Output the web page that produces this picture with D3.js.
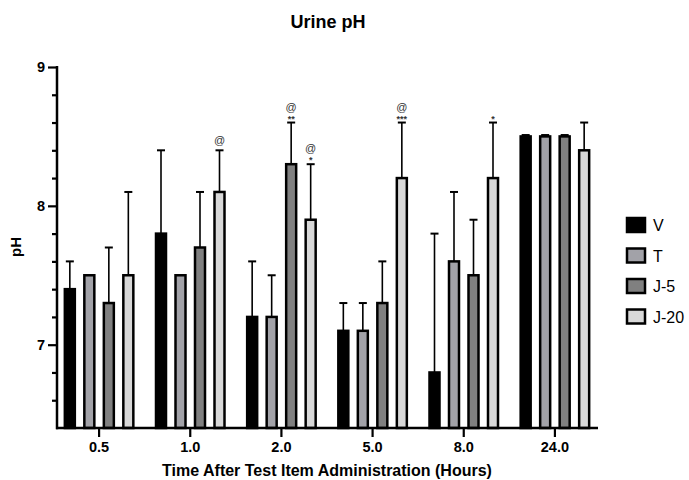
<!DOCTYPE html>
<html lang="en">
<head>
<meta charset="UTF-8">
<script src="https://cdn.jsdelivr.net/npm/d3@7"></script>
<title>Urine pH</title>
<style>
    body { margin: 0; background: white; }
    text { font-family: Arial, "Liberation Sans", sans-serif; }
</style>
</head>
<body>
<div id="chart"></div>
<script>
    // chart data
    const times = ["0.5", "1.0", "2.0", "5.0", "8.0", "24.0"];
    const groups = ["V", "T", "J-5", "J-20"];
    const fills = ["#000000", "#a2a2a8", "#808080", "#d8d8d8"];

    const meanV = [7.4, 7.8, 7.2, 7.1, 6.8, 8.5];
    const meanT = [7.5, 7.5, 7.2, 7.1, 7.6, 8.5];
    const meanJ5 = [7.3, 7.7, 8.3, 7.3, 7.5, 8.5];
    const meanJ20 = [7.5, 8.1, 7.9, 8.2, 8.2, 8.4];

    const sdV = [0.2, 0.6, 0.4, 0.2, 1.0, 0.01];
    const sdT = [0, 0, 0.3, 0.2, 0.5, 0.01];
    const sdJ5 = [0.4, 0.4, 0.3, 0.3, 0.4, 0.01];
    const sdJ20 = [0.6, 0.3, 0.4, 0.4, 0.4, 0.2];

    // significance marks: [time, group, top mark, lower mark]
    const marks = [
        ["1.0", "J-20", "@", ""],
        ["2.0", "J-5", "@", "**"],
        ["2.0", "J-20", "@", "*"],
        ["5.0", "J-20", "@", "***"],
        ["8.0", "J-20", "", "*"]
    ];

    const means = [meanV, meanT, meanJ5, meanJ20];
    const sds = [sdV, sdT, sdJ5, sdJ20];

    const width = 689, height = 480;
    const svg = d3.select("#chart").append("svg")
        .attr("width", width)
        .attr("height", height);

    const x = d3.scaleBand().domain(times).range([53.5, 600.5]).padding(0);
    const inner = d3.scaleBand().domain(groups).range([0, 78]).padding(0);
    const y = d3.scaleLinear().domain([6.4, 9]).range([428, 67]);

    const barW = 10;
    const cx = (t, g) => x(t) + x.bandwidth() / 2 - 39 + inner(g) + inner.bandwidth() / 2;

    // rows for bars
    const rows = [];
    groups.forEach((g, gi) => {
        times.forEach((t, ti) => {
            rows.push({ t: t, g: g, gi: gi, mean: means[gi][ti], sd: sds[gi][ti] });
        });
    });

    // error bars (drawn first, bars cover lower half)
    const err = svg.append("g").attr("stroke", "black").attr("stroke-width", 1.6);
    rows.filter(d => d.sd > 0).forEach(d => {
        const c = cx(d.t, d.g);
        err.append("line").attr("x1", c).attr("x2", c)
            .attr("y1", y(d.mean)).attr("y2", y(d.mean + d.sd));
        err.append("line").attr("x1", c - 4).attr("x2", c + 4)
            .attr("y1", y(d.mean + d.sd)).attr("y2", y(d.mean + d.sd))
            .attr("stroke-width", 2);
    });

    svg.append("g").selectAll("rect")
        .data(rows)
        .enter()
        .append("rect")
        .attr("x", d => cx(d.t, d.g) - barW / 2)
        .attr("width", barW)
        .attr("y", d => y(d.mean))
        .attr("height", d => y(6.4) - y(d.mean))
        .attr("fill", d => fills[d.gi])
        .attr("stroke", "black")
        .attr("stroke-width", 2.5);

    // significance labels
    marks.forEach(m => {
        const gi = groups.indexOf(m[1]);
        const ti = times.indexOf(m[0]);
        const top = y(means[gi][ti] + sds[gi][ti]);
        const c = cx(m[0], m[1]);
        if (m[3]) {
            svg.append("text").attr("x", c).attr("y", top - 1)
                .attr("text-anchor", "middle").attr("font-size", 9)
                .attr("font-weight", "bold").attr("fill", "#333")
                .text(m[3]);
        }
        if (m[2]) {
            svg.append("text").attr("x", c).attr("y", top - (m[3] ? 12 : 6.5))
                .attr("text-anchor", "middle").attr("font-size", 11)
                .attr("fill", "#333")
                .text(m[2]);
        }
    });

    // y axis
    const yAxis = svg.append("g")
        .attr("transform", "translate(57,0)")
        .call(d3.axisLeft(y).tickValues([7, 8, 9]).tickSize(9).tickPadding(3).tickFormat(d3.format("d")));
    yAxis.select(".domain").remove();
    yAxis.selectAll("line").attr("stroke-width", 2.2);
    yAxis.selectAll("text").attr("font-size", 14.5).attr("font-weight", "bold").attr("fill", "black");

    const minor = d3.range(6.6, 9.01, 0.2).filter(v => Math.abs(v - Math.round(v)) > 0.01);
    svg.append("g")
        .attr("transform", "translate(57,0)")
        .call(d3.axisLeft(y).tickValues(minor).tickSize(5).tickFormat(""))
        .call(g => g.select(".domain").remove())
        .selectAll("line").attr("stroke-width", 2.2);

    svg.append("line").attr("x1", 57).attr("x2", 57)
        .attr("y1", y(9) - 1).attr("y2", y(6.4) + 1.2)
        .attr("stroke", "black").attr("stroke-width", 2.5);

    // x axis
    const xAxis = svg.append("g")
        .attr("transform", "translate(0,428)")
        .call(d3.axisBottom(x).tickSize(9).tickPadding(5));
    xAxis.select(".domain").remove();
    xAxis.selectAll("line").attr("stroke-width", 2.2);
    xAxis.selectAll("text").attr("font-size", 14.5).attr("font-weight", "bold").attr("fill", "black");

    svg.append("line").attr("x1", 56).attr("x2", 598)
        .attr("y1", 428).attr("y2", 428)
        .attr("stroke", "black").attr("stroke-width", 2.5);

    // titles
    svg.append("text").attr("x", 328).attr("y", 28)
        .attr("text-anchor", "middle").attr("font-size", 18).attr("font-weight", "bold")
        .text("Urine pH");

    svg.append("text").attr("x", 327).attr("y", 476)
        .attr("text-anchor", "middle").attr("font-size", 16).attr("font-weight", "bold")
        .text("Time After Test Item Administration (Hours)");

    svg.append("text")
        .attr("transform", "translate(21,247) rotate(-90)")
        .attr("text-anchor", "middle").attr("font-size", 15).attr("font-weight", "bold")
        .text("pH");

    // legend
    const legend = svg.append("g").attr("transform", "translate(626,217)");
    groups.forEach((g, i) => {
        const row = legend.append("g").attr("transform", `translate(0,${i * 30.5})`);
        row.append("rect").attr("width", 18).attr("height", 14)
            .attr("x", 1).attr("y", 1)
            .attr("fill", fills[i]).attr("stroke", "black").attr("stroke-width", 2.5);
        row.append("text").attr("x", 27).attr("y", 14)
            .attr("font-size", 16).text(g);
    });
</script>
</body>
</html>
